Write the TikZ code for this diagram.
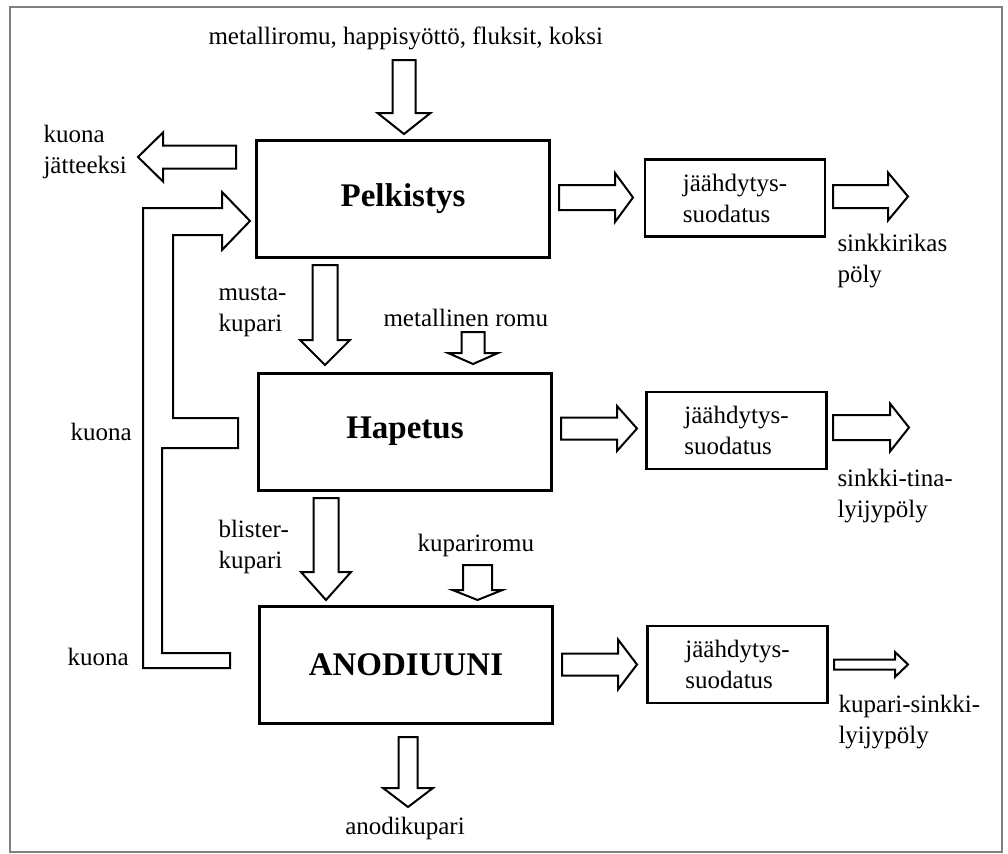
\documentclass[tikz,border=0pt]{standalone}
\usepackage{fontspec}
\setmainfont{Liberation Serif}
\usetikzlibrary{calc}

% hollow block arrow: tail, tip, half shaft, half head, head length (in px)
\newcommand{\blockarrow}[5]{%
  \coordinate (hb) at ($(#2)!#5*0.4pt!(#1)$);
  \draw[blk] ($(#1)!#3*0.4pt!90:(#2)$) -- ($(hb)!#3*0.4pt!-90:(#1)$)
    -- ($(hb)!#4*0.4pt!-90:(#1)$) -- (#2) -- ($(hb)!#4*0.4pt!90:(#1)$)
    -- ($(hb)!#3*0.4pt!90:(#1)$) -- ($(#1)!#3*0.4pt!-90:(#2)$) -- cycle;
}

\begin{document}
\begin{tikzpicture}[x=0.4pt, y=-0.4pt, font=\fontsize{10}{12.4}\selectfont,
    blk/.style={line width=0.8pt, line join=miter},
    mainbox/.style={draw, line width=1.2pt, minimum width=116.8pt, minimum height=46.8pt,
      font=\fontsize{13.2}{15}\selectfont\bfseries},
    coolbox/.style={draw, line width=1pt, minimum width=72pt, minimum height=30.8pt, align=left},
    lbl/.style={inner sep=0pt, align=left, anchor=west}]
    \useasboundingbox (0,0) rectangle (1008,854);
    \draw[gray, line width=0.5pt] (10,7) rectangle (1002,852);

    % process boxes
    \node (pel) [mainbox] at (403,198.5) {Pelkistys};
    \node (hap) [mainbox] at (405,431.5) {Hapetus};
    \node (ano) [mainbox] at (406,664.5) {ANODIUUNI};

    \node (c1) [coolbox] at (735,198) {jäähdytys-\\suodatus};
    \node (c2) [coolbox] at (736.5,430.5) {jäähdytys-\\suodatus};
    \node (c3) [coolbox] at (737.5,664.5) {jäähdytys-\\suodatus};

    % labels
    \node (feed) [lbl] at (208,38) {metalliromu, happisyöttö, fluksit, koksi};
    \node (slag) [lbl] at (43,152) {kuona\\jätteeksi};
    \node (musta) [lbl] at (218,312) {musta-\\kupari};
    \node (mromu) [lbl] at (383,318) {metallinen romu};
    \node (kuona1) [lbl] at (70,432) {kuona};
    \node (blister) [lbl] at (218,547) {blister-\\kupari};
    \node (kromu) [lbl] at (417,545) {kupariromu};
    \node (kuona2) [lbl] at (67,657) {kuona};
    \node (anodi) [inner sep=0pt] at (405,828) {anodikupari};
    \node (out1) [lbl] at (837,261) {sinkkirikas\\pöly};
    \node (out2) [lbl] at (837,496) {sinkki-tina-\\lyijypöly};
    \node (out3) [lbl] at (838,722) {kupari-sinkki-\\lyijypöly};

    % arrow ends
    \coordinate (a1t) at (404,60);    \coordinate (a1h) at (404,134);
    \coordinate (a2t) at (236,157);   \coordinate (a2h) at (138,157);
    \coordinate (a3t) at (559,197.5); \coordinate (a3h) at (633,197.5);
    \coordinate (a4t) at (833,196.5); \coordinate (a4h) at (908,196.5);
    \coordinate (a5t) at (325,265);   \coordinate (a5h) at (325,365);
    \coordinate (a6t) at (473,332);   \coordinate (a6h) at (473,364);
    \coordinate (a7t) at (561,428.5); \coordinate (a7h) at (637,428.5);
    \coordinate (a8t) at (833,427.5); \coordinate (a8h) at (909,427.5);
    \coordinate (a9t) at (326,498);   \coordinate (a9h) at (326,600);
    \coordinate (a10t) at (477.5,565); \coordinate (a10h) at (477.5,600);
    \coordinate (a11t) at (562,664.5); \coordinate (a11h) at (637,664.5);
    \coordinate (a12t) at (834,664.5); \coordinate (a12h) at (908,664.5);
    \coordinate (a13t) at (408,737);  \coordinate (a13h) at (408,807);

    \blockarrow{a1t}{a1h}{11.5}{26.5}{21}
    \blockarrow{a2t}{a2h}{11.5}{24.5}{25}
    \blockarrow{a3t}{a3h}{12.5}{24.5}{18}
    \blockarrow{a4t}{a4h}{11.5}{24}{20}
    \blockarrow{a5t}{a5h}{12.5}{25}{25}
    \blockarrow{a6t}{a6h}{11.5}{25}{11}
    \blockarrow{a7t}{a7h}{11}{22.5}{20}
    \blockarrow{a8t}{a8h}{12.5}{24}{19}
    \blockarrow{a9t}{a9h}{12.5}{25}{28}
    \blockarrow{a10t}{a10h}{14.5}{25}{10}
    \blockarrow{a11t}{a11h}{11}{25}{19}
    \blockarrow{a12t}{a12h}{5}{12.5}{13}
    \blockarrow{a13t}{a13h}{9.5}{25}{19}

    % slag return
    \draw[blk] (143,208) -- (222,208) -- (222,192) -- (250,221) -- (222,250) -- (222,235)
      -- (173,235) -- (173,418) -- (238,418) -- (238,448) -- (162,448) -- (162,653)
      -- (230,653) -- (230,668) -- (143,668) -- cycle;
\end{tikzpicture}
\end{document}
